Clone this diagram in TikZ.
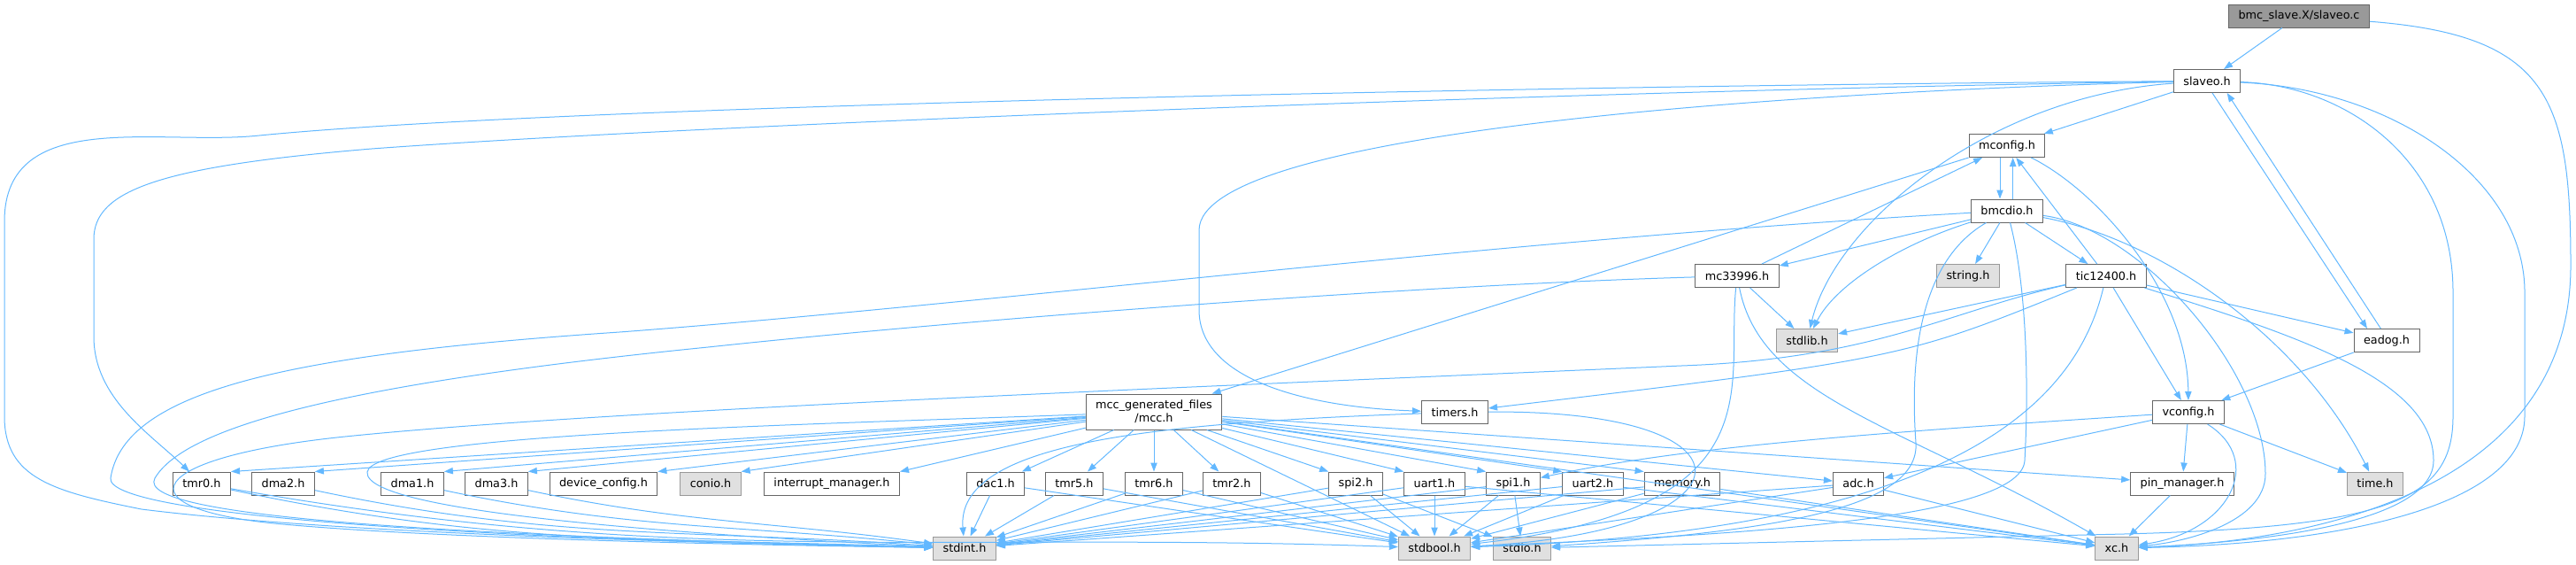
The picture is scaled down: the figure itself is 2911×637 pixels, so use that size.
\documentclass[tikz,border=0pt]{standalone}
\usepackage{fontspec}
\setmainfont{DejaVu Sans}
\usetikzlibrary{arrows.meta}

\definecolor{edgeblue}{HTML}{63B8FF}
\definecolor{boxline}{HTML}{666666}
\definecolor{sysline}{HTML}{999999}
\definecolor{sysfill}{HTML}{E0E0E0}
\definecolor{rootfill}{HTML}{999999}

\tikzset{
  hdr/.style={draw=boxline, fill=white, line width=0.75pt, inner xsep=8.25pt, inner ysep=0pt,
    minimum height=19.5pt, font=\fontsize{9.6pt}{11.25pt}\selectfont},
  syshdr/.style={hdr, draw=sysline, fill=sysfill},
  roothdr/.style={hdr, fill=rootfill},
  dep/.style={draw=edgeblue, line width=0.75pt, -{Triangle[length=7.5pt,width=5.5pt]}},
}

\begin{document}
\begin{tikzpicture}[x=0.75pt, y=-0.75pt]
  \useasboundingbox (0,0) rectangle (2911,637);

  % 1. top of the graph
  \node[roothdr] (src) at (2598,18) {bmc\_slave.X/slaveo.c};
  \node[hdr] (slaveo) at (2494,91.5) {slaveo.h};
  \node[hdr] (mconfig) at (2268,164.5) {mconfig.h};
  \node[hdr] (bmcdio) at (2268,238) {bmcdio.h};
  \node[hdr] (mc33996) at (1963,311.5) {mc33996.h};
  \node[syshdr] (string) at (2224,311.5) {string.h};
  \node[hdr] (tic) at (2380,311.5) {tic12400.h};
  \node[syshdr] (stdlib) at (2042,384.5) {stdlib.h};
  \node[hdr] (eadog) at (2697,384.5) {eadog.h};

  % 2. middle row
  \node[hdr, align=center, minimum height=30pt] (mcc) at (1304,465) {mcc\_generated\_files\\/mcc.h};
  \node[hdr] (timers) at (1644,465.5) {timers.h};
  \node[hdr] (vconfig) at (2473,465.5) {vconfig.h};

  % 3. row of peripheral headers
  \node[hdr] (tmr0) at (228,546) {tmr0.h};
  \node[hdr] (dma2) at (320,546) {dma2.h};
  \node[hdr] (dma1) at (466,546) {dma1.h};
  \node[hdr] (dma3) at (561,546) {dma3.h};
  \node[hdr] (devcfg) at (682,546) {device\_config.h};
  \node[syshdr] (conio) at (803,546) {conio.h};
  \node[hdr] (intmgr) at (940,546) {interrupt\_manager.h};
  \node[hdr] (dac1) at (1125,546) {dac1.h};
  \node[hdr] (tmr5) at (1214,546) {tmr5.h};
  \node[hdr] (tmr6) at (1304,546) {tmr6.h};
  \node[hdr] (tmr2) at (1392,546) {tmr2.h};
  \node[hdr] (spi2) at (1532,546) {spi2.h};
  \node[hdr] (uart1) at (1621,546) {uart1.h};
  \node[hdr] (spi1) at (1710,546) {spi1.h};
  \node[hdr] (uart2) at (1800,546) {uart2.h};
  \node[hdr] (memory) at (1901,546) {memory.h};
  \node[hdr] (adc) at (2100,546) {adc.h};
  \node[hdr] (pinmgr) at (2466,546) {pin\_manager.h};
  \node[syshdr] (time) at (2684,546) {time.h};

  % 4. system headers at the bottom
  \node[syshdr] (stdint) at (1090,619) {stdint.h};
  \node[syshdr] (stdbool) at (1621,619) {stdbool.h};
  \node[syshdr] (stdio) at (1720,619) {stdio.h};
  \node[syshdr] (xc) at (2392,619) {xc.h};

  % 5. includes of the source file and of slaveo.h
  \draw[dep] (src) -- (slaveo);
  \draw[dep] (src) .. controls (2880,40) and (2905,110) .. (2905,300) .. controls (2905,560) and (2600,612) .. (xc);
  \draw[dep] (slaveo) -- (mconfig);
  \draw[dep] (slaveo) .. controls (1800,96) and (650,118) .. (293,153) .. controls (180,165) and (5,120) .. (5,250) -- (5,470) .. controls (5,540) and (60,555) .. (160,575) .. controls (400,605) and (850,614) .. (stdint);
  \draw[dep] (slaveo) .. controls (1800,102) and (800,140) .. (420,168) .. controls (180,188) and (106,215) .. (106,270) -- (106,380) .. controls (106,450) and (170,490) .. (tmr0);
  \draw[dep] (slaveo) .. controls (2000,104) and (1355,150) .. (1355,260) -- (1355,350) .. controls (1355,430) and (1480,460) .. (timers);
  \draw[dep] (slaveo) .. controls (2250,108) and (2075,250) .. (stdlib);
  \draw[dep] ([xshift=4.5pt]slaveo.south) -- ([xshift=-16.5pt]eadog.north);
  \draw[dep] ([xshift=-5pt]eadog.north) -- ([xshift=17pt]slaveo.south);
  \draw[dep] (slaveo) .. controls (2650,96) and (2772,180) .. (2772,330) -- (2772,470) .. controls (2772,565) and (2700,595) .. (2400,603) -- (stdio);
  \draw[dep] (slaveo) .. controls (2700,100) and (2853,200) .. (2853,330) -- (2853,470) .. controls (2853,570) and (2650,614) .. (xc);

  % 6. mconfig.h and bmcdio.h
  \draw[dep] ([xshift=-6pt]mconfig.south) -- ([xshift=-6pt]bmcdio.north);
  \draw[dep] ([xshift=5pt]bmcdio.north) -- ([xshift=5pt]mconfig.south);
  \draw[dep] (mconfig) -- (mcc);
  \draw[dep] (mconfig) .. controls (2370,215) and (2472,330) .. (vconfig);
  \draw[dep] (bmcdio) -- (mc33996);
  \draw[dep] (bmcdio) -- (string);
  \draw[dep] (bmcdio) -- (tic);
  \draw[dep] (bmcdio) .. controls (2150,275) and (2075,320) .. (stdlib);
  \draw[dep] (bmcdio) .. controls (1700,270) and (1100,345) .. (700,375) .. controls (330,400) and (140,440) .. (125,540) .. controls (120,580) and (500,608) .. (stdint);
  \draw[dep] (bmcdio) .. controls (2160,300) and (2160,430) .. (2165,500) .. controls (2170,575) and (2000,600) .. (stdio);
  \draw[dep] (bmcdio) .. controls (2292,330) and (2292,450) .. (2288,520) .. controls (2284,592) and (1900,606) .. (stdbool);
  \draw[dep] (bmcdio) .. controls (2420,258) and (2560,420) .. (2560,535) .. controls (2560,590) and (2470,612) .. (xc);
  \draw[dep] (bmcdio) .. controls (2440,270) and (2600,380) .. (time);

  % 7. mc33996.h and tic12400.h
  \draw[dep] (mc33996) -- (mconfig);
  \draw[dep] (mc33996) -- (stdlib);
  \draw[dep] (mc33996) .. controls (1990,450) and (2150,480) .. (xc);
  \draw[dep] (mc33996) .. controls (1950,440) and (2010,575) .. (stdbool);
  \draw[dep] (mc33996) .. controls (1600,322) and (1100,360) .. (800,392) .. controls (400,432) and (210,480) .. (175,540) .. controls (150,585) and (520,605) .. (stdint);
  \draw[dep] (tic) -- (mconfig);
  \draw[dep] (tic) -- (stdlib);
  \draw[dep] (tic) .. controls (2150,405) .. (timers);
  \draw[dep] (tic) -- (vconfig);
  \draw[dep] (tic) -- (eadog);
  \draw[dep] (tic) .. controls (2600,380) and (2750,430) .. (2750,520) .. controls (2750,590) and (2560,612) .. (xc);
  \draw[dep] (tic) .. controls (2345,460) and (2200,600) .. (stdbool);
  \draw[dep] (tic) .. controls (2200,352) and (2120,405) .. (1900,413) .. controls (1400,435) and (700,462) .. (400,492) .. controls (160,515) and (130,575) .. (320,592) .. controls (520,610) and (900,616) .. (stdint);

  % 8. eadog.h, vconfig.h, timers.h
  \draw[dep] (eadog) -- (vconfig);
  \draw[dep] (vconfig) -- (time);
  \draw[dep] (vconfig) -- (pinmgr);
  \draw[dep] (vconfig) .. controls (2560,520) and (2520,600) .. (xc);
  \draw[dep] (vconfig) -- (adc);
  \draw[dep] (vconfig) .. controls (2100,490) and (1900,505) .. (spi1);
  \draw[dep] (pinmgr) -- (xc);
  \draw[dep] (timers) .. controls (1300,478) and (1080,500) .. (stdint);
  \draw[dep] (timers) .. controls (2000,462) and (1990,600) .. (stdbool);

  % 9. mcc.h fans out
  \path (mcc) edge[dep] (tmr0.north east)
              edge[dep] (dma2.north east)
              edge[dep] (dma1.north east)
              edge[dep] (dma3.north east)
              edge[dep] (devcfg.north east)
              edge[dep] (conio.north east)
              edge[dep] (intmgr.north east)
              edge[dep] (dac1)
              edge[dep] (tmr5)
              edge[dep] (tmr6)
              edge[dep] (tmr2)
              edge[dep] (spi2.north west)
              edge[dep] (uart1.north west)
              edge[dep] (spi1.north west)
              edge[dep] (uart2.north west)
              edge[dep] (memory.north west)
              edge[dep] (adc)
              edge[dep] (pinmgr)
              edge[dep] (xc)
              edge[dep] (stdbool);
  \draw[dep] (mcc) .. controls (900,480) and (420,490) .. (415,533) .. controls (410,580) and (800,605) .. (stdint);

  % 10. peripheral headers down to the system headers
  \path (tmr0) edge[dep, out=-12, in=178] (stdint)
               edge[dep, out=-10, in=178] (stdbool);
  \path (dma2) edge[dep, out=-12, in=176] (stdint);
  \path (dma1) edge[dep, out=-12, in=174] (stdint);
  \path (dma3) edge[dep, out=-12, in=172] (stdint);
  \path (dac1) edge[dep] (stdint) edge[dep] (stdbool);
  \path (tmr5) edge[dep] (stdint) edge[dep] (stdbool);
  \path (tmr6) edge[dep] (stdint) edge[dep] (stdbool);
  \path (tmr2) edge[dep] (stdint) edge[dep] (stdbool);
  \path (spi2) edge[dep] (stdint) edge[dep] (stdbool) edge[dep] (stdio);
  \path (uart1) edge[dep] (stdint) edge[dep] (stdbool) edge[dep] (xc);
  \path (spi1) edge[dep] (stdint) edge[dep] (stdbool) edge[dep] (stdio);
  \path (uart2) edge[dep] (stdint) edge[dep] (stdbool) edge[dep] (xc);
  \path (memory) edge[dep] (stdint) edge[dep] (stdbool) edge[dep] (xc);
  \path (adc) edge[dep] (stdint) edge[dep] (stdbool) edge[dep] (xc);
\end{tikzpicture}
\end{document}
